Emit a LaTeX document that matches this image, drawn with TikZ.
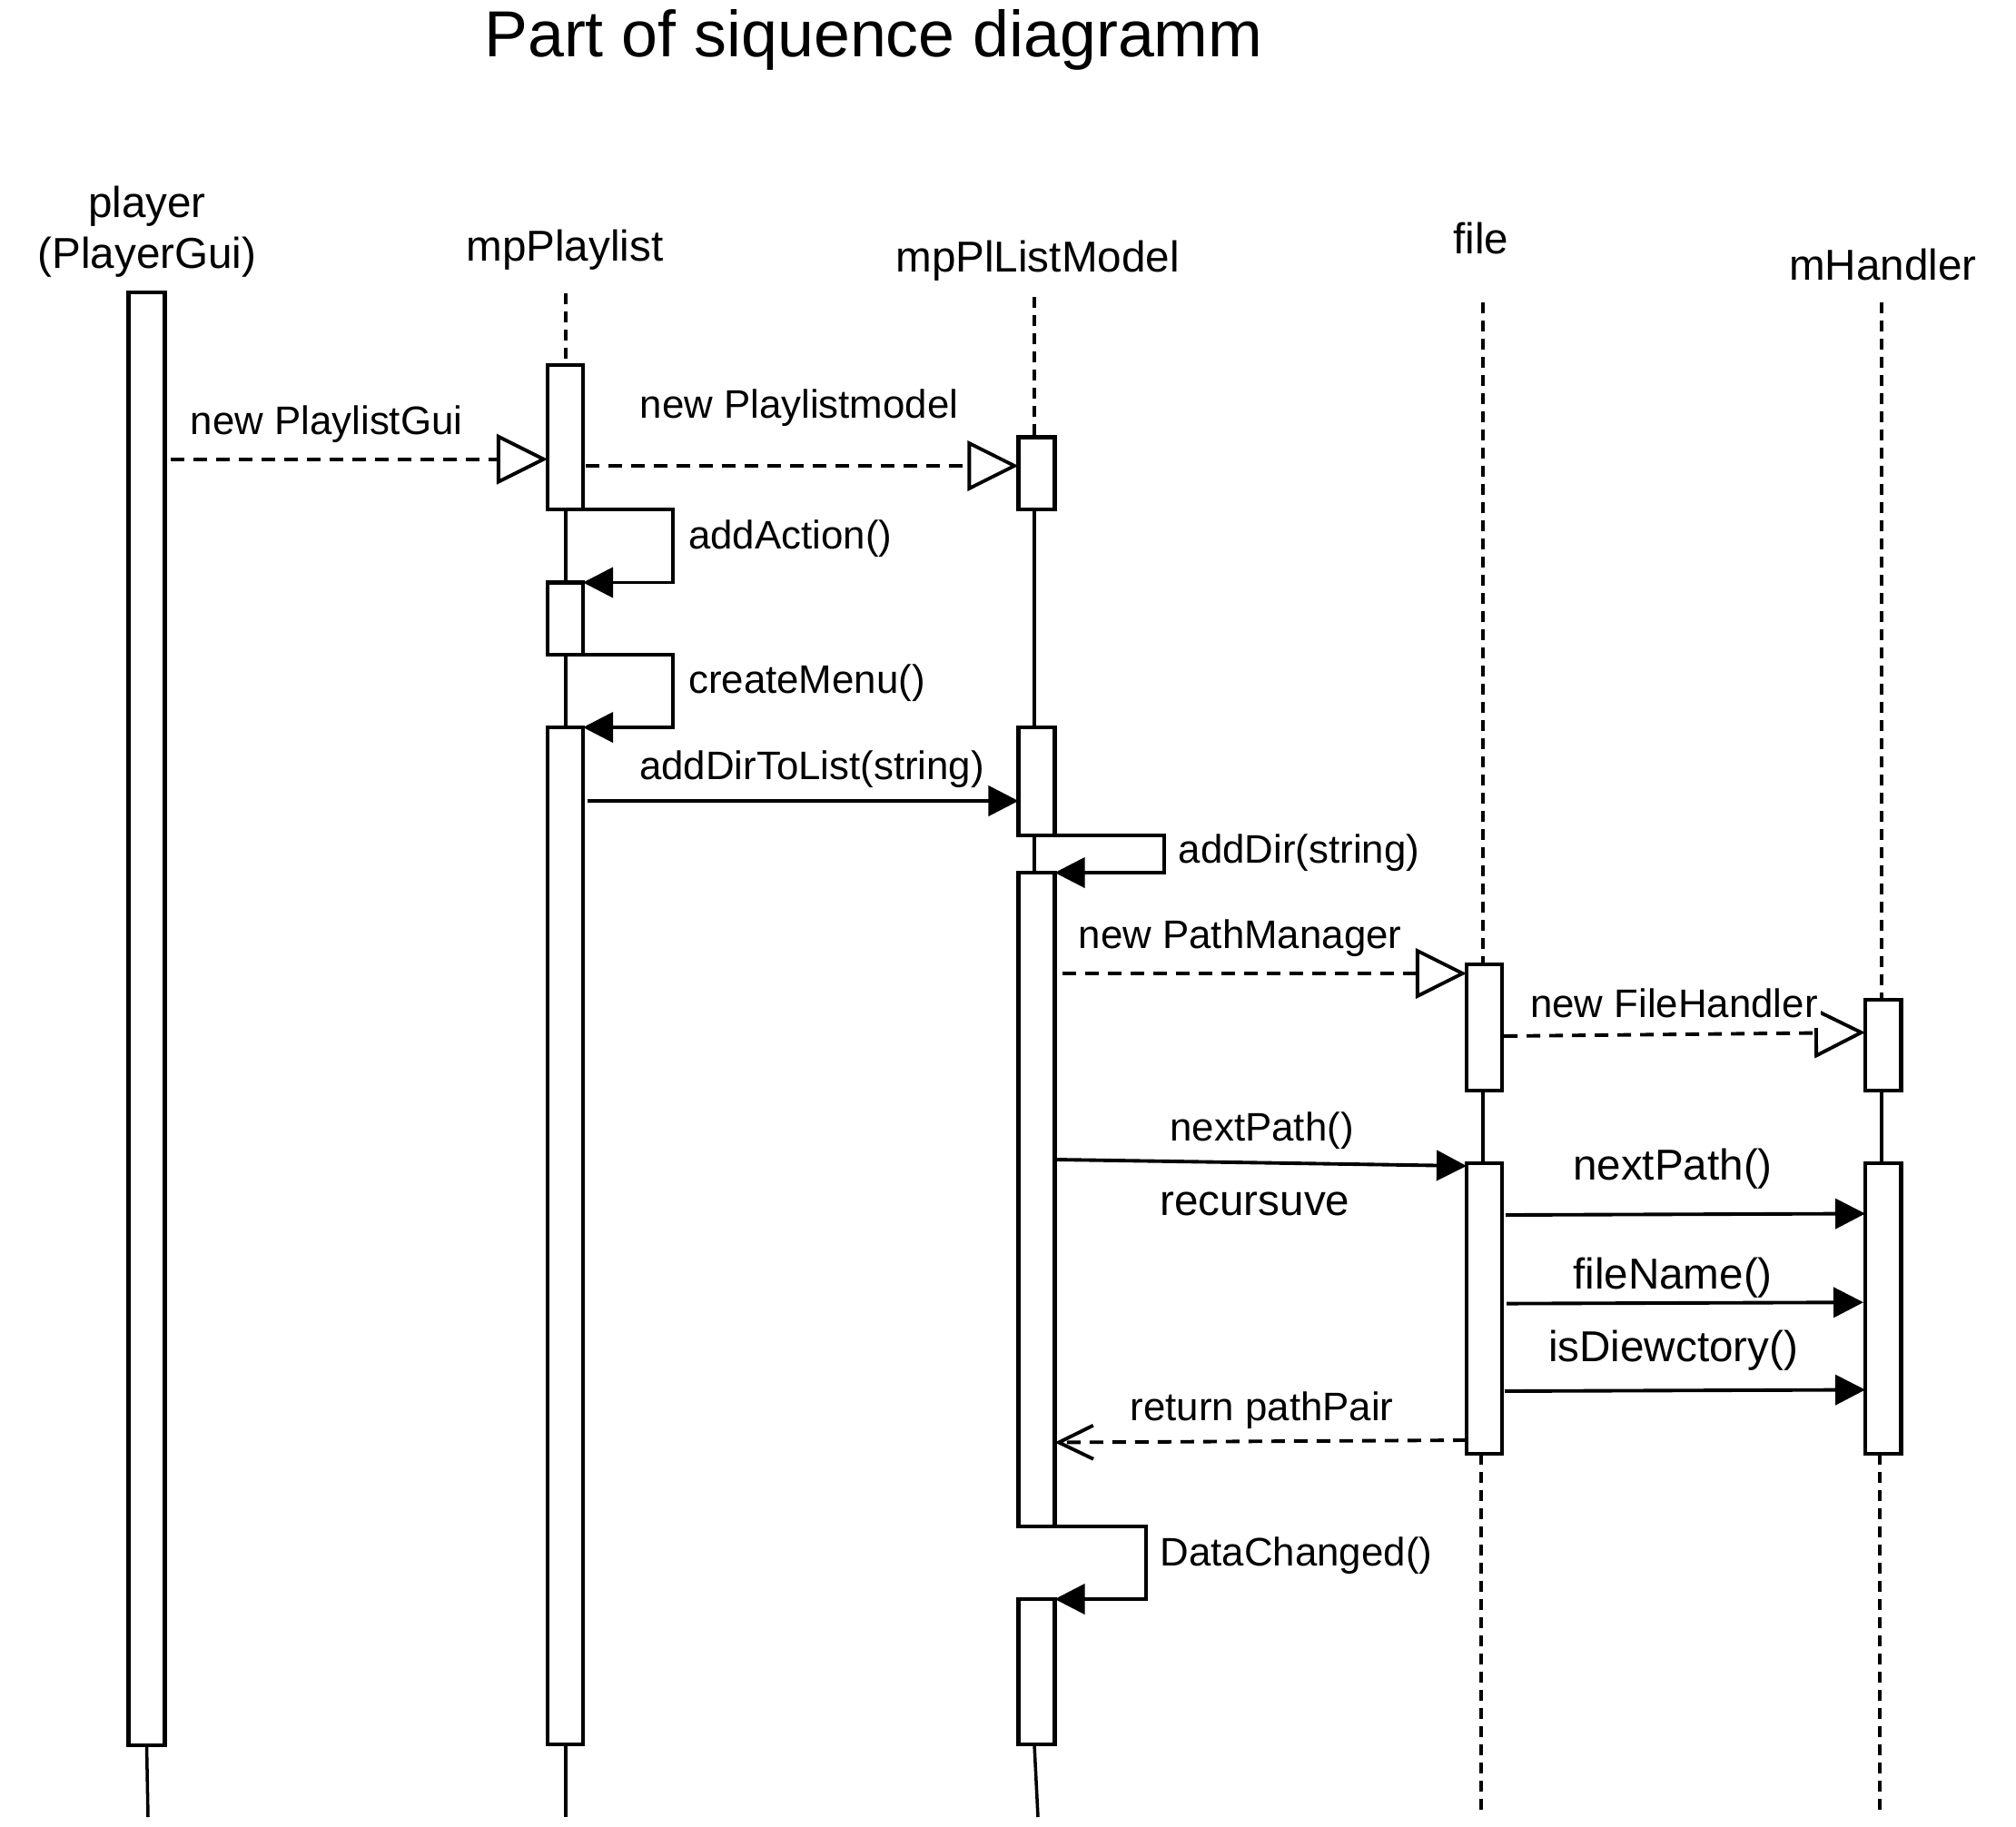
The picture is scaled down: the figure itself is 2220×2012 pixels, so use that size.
\documentclass[tikz,border=0pt]{standalone}
\usepackage{fontspec}
\setmainfont{Liberation Sans}
\usetikzlibrary{arrows.meta,calc,fit}
\begin{document}
\begin{tikzpicture}[x=0.01cm, y=-0.01cm,
  box/.style={draw, fill=white, line width=1.15pt, inner sep=0pt, outer sep=0pt},
  life/.style={line width=1pt},
  lifedash/.style={line width=1pt, dash pattern=on 0.12cm off 0.08cm},
  msg/.style={line width=1.1pt},
  sync/.style={msg, -{Triangle[length=0.33cm, width=0.33cm]}},
  create/.style={msg, dash pattern=on 0.15cm off 0.1cm, -{Triangle[open, length=0.56cm, width=0.55cm]}},
  reply/.style={msg, dash pattern=on 0.15cm off 0.1cm, -{Straight Barb[length=0.38cm, width=0.37cm]}},
  lbl/.style={font=\fontsize{12.46pt}{15pt}\selectfont, inner sep=0pt, anchor=base},
  big/.style={font=\fontsize{13.54pt}{16pt}\selectfont, inner sep=0pt, anchor=base},
  ttl/.style={font=\fontsize{20.4pt}{24pt}\selectfont, inner sep=0pt, anchor=base}
]
\fill[white] (0,0) rectangle (2220,2012);
\useasboundingbox (0,0) rectangle (2220,2012);

% title and headers
\node[ttl] (title) at (962,63) {Part of siquence diagramm};
\node[big] (hPlayer) at (162,239) {player};
\node[big] (hPlayerGui) at (162,295) {(PlayerGui)};
\node[big] (hA) at (622,287) {mpPlaylist};
\node[big] (hB) at (1142.6,299) {mpPlListModel};
\node[big] (hC) at (1631,279) {file};
\node[big] (hD) at (2073.5,308) {mHandler};

% lifeline ends
\coordinate (tA) at (623,323);
\coordinate (tB) at (1139,327);
\coordinate (tC) at (1633,333);
\coordinate (tD) at (2072,333);
\coordinate (eP) at (163,2001);
\coordinate (eA) at (623,2001);
\coordinate (eB) at (1143,2001);
\coordinate (eC) at (1631,2001);
\coordinate (eD) at (2070,2001);

% activation boxes
\node[box, fit={(141.5,322) (181.5,1922)}] (P0) {};
\node[box, fit={(603,402) (642,561)}] (A1) {};
\node[box, fit={(603,641.5) (642,721)}] (A2) {};
\node[box, fit={(603,801) (642,1921)}] (A3) {};
\node[box, fit={(1121.5,481.5) (1161.5,561)}] (B1) {};
\node[box, fit={(1121.5,801) (1161.5,920)}] (B2) {};
\node[box, fit={(1121.5,961) (1161.5,1681)}] (B3) {};
\node[box, fit={(1121.5,1761) (1161.5,1921)}] (B4) {};
\node[box, fit={(1615,1062) (1654,1201)}] (C1) {};
\node[box, fit={(1615,1281) (1654,1601)}] (C2) {};
\node[box, fit={(2054,1101) (2093.5,1201)}] (D1) {};
\node[box, fit={(2054,1281) (2093.5,1601)}] (D2) {};

% lifelines
\draw[life] (P0.south) -- (eP);
\draw[lifedash] (tA) -- (tA |- A1.north);
\draw[life] (tA |- A1.south) -- (tA |- A2.north);
\draw[life] (tA |- A2.south) -- (tA |- A3.north);
\draw[life] (tA |- A3.south) -- (eA);
\draw[lifedash] (tB) -- (tB |- B1.north);
\draw[life] (tB |- B1.south) -- (tB |- B2.north);
\draw[life] (tB |- B2.south) -- (tB |- B3.north);
\draw[life] (tB |- B4.south) -- (eB);
\draw[lifedash] (tC) -- (tC |- C1.north);
\draw[life] (tC |- C1.south) -- (tC |- C2.north);
\draw[lifedash] (eC |- C2.south) -- (eC);
\draw[lifedash] (tD) -- (tD |- D1.north);
\draw[life] (tD |- D1.south) -- (tD |- D2.north);
\draw[lifedash] (eD |- D2.south) -- (eD);

% messages
\draw[create] ($(P0.east |- 0,505.7)+(6,0)$) -- (A1.west |- 0,505.7);
\draw[create] ($(A1.east |- 0,513)+(3,0)$) -- (B1.west |- 0,513);
\draw[sync] (A1.south east) -- ++(99,0) |- (A2.north east);
\draw[sync] (A2.south east) -- ++(99,0) |- (A3.north east);
\draw[sync] ($(A3.east |- 0,882)+(5,0)$) -- (B2.west |- 0,882);
\draw[sync] (B2.south east) -- ++(120.5,0) |- (B3.north east);
\draw[create] ($(B3.east |- 0,1072)+(8,0)$) -- (C1.west |- 0,1072);
\draw[create] ($(C1.east |- 0,1141)+(2,0)$) -- (D1.west |- 0,1137);
\draw[sync] ($(B3.east |- 0,1277)+(2,0)$) -- (C2.west |- 0,1284);
\draw[sync] ($(C2.east |- 0,1338)+(4,0)$) -- (D2.west |- 0,1336.5);
\draw[sync] ($(C2.east |- 0,1435.6)+(5,0)$) -- ($(D2.west |- 0,1434.2)+(-2,0)$);
\draw[sync] ($(C2.east |- 0,1532)+(3,0)$) -- (D2.west |- 0,1530.5);
\draw[reply] (C2.west |- 0,1586) -- (B3.east |- 0,1588.5);
\draw[sync] (B3.south west) -- ++(140.5,0) |- (B4.north east);

% message labels
\node[lbl] (l1) at (359.6,478) {new PlaylistGui};
\node[lbl] (l2) at (880,460) {new Playlistmodel};
\node[lbl, anchor=base west] (l3) at (757.5,604) {addAction()};
\node[lbl, anchor=base west] (l4) at (757.5,763) {createMenu()};
\node[lbl] (l5) at (894,858) {addDirToList(string)};
\node[lbl, anchor=base west] (l6) at (1297,950) {addDir(string)};
\node[lbl] (l7) at (1365.6,1044) {new PathManager};
\node[lbl, anchor=base east, fill=white, inner xsep=1pt, inner ysep=3.3pt] (l8) at (2006,1120) {new FileHandler};
\node[lbl] (l9) at (1389.6,1256) {nextPath()};
\node[big] (l10) at (1381.8,1338) {recursuve};
\node[big] (l11) at (1842,1299) {nextPath()};
\node[big] (l12) at (1842,1419) {fileName()};
\node[big] (l13) at (1842.7,1499) {isDiewctory()};
\node[lbl] (l14) at (1389.6,1564) {return pathPair};
\node[lbl, anchor=base west] (l15) at (1277,1724) {DataChanged()};
\end{tikzpicture}
\end{document}
